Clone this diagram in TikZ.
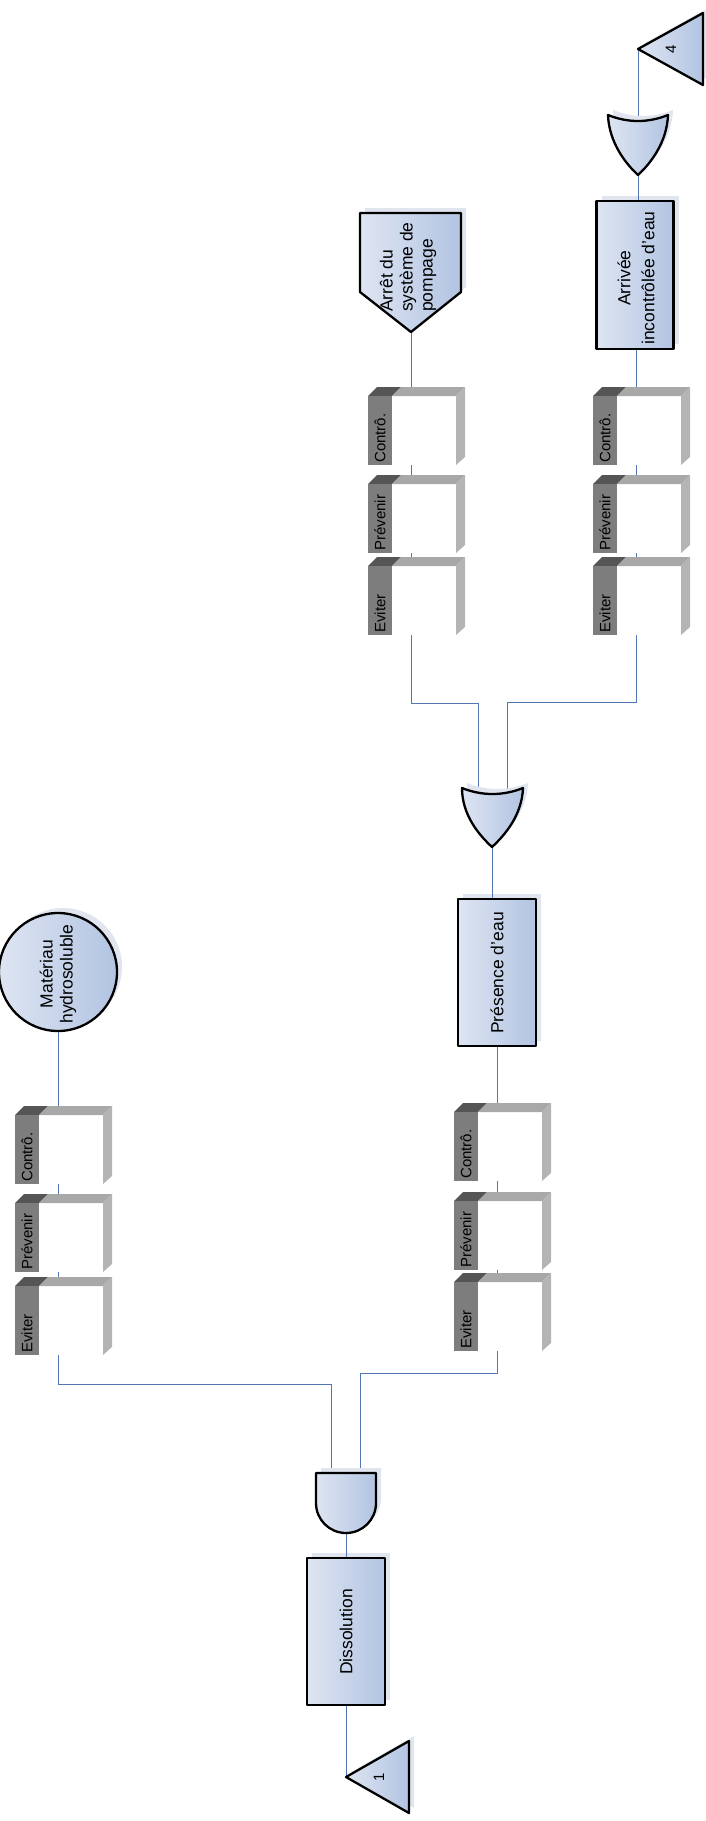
\documentclass[tikz,border=0pt]{standalone}
\usepackage{fontspec}
\setmainfont{Liberation Sans}
\usetikzlibrary{shadows}
\definecolor{fillL}{RGB}{222,229,242}
\definecolor{fillD}{RGB}{178,196,226}
\definecolor{shad}{RGB}{224,229,240}
\definecolor{wirec}{RGB}{84,118,178}
\definecolor{capc}{RGB}{85,85,85}
\definecolor{stripc}{RGB}{125,125,125}
\definecolor{barc}{RGB}{168,168,168}
\definecolor{facec}{RGB}{180,180,180}
\tikzset{
  blk/.style={draw=black, line width=2.3pt, line join=round, left color=fillL, right color=fillD,
    drop shadow={shadow xshift=5pt, shadow yshift=5pt, fill=shad, opacity=1}},
  lbl/.style={rotate=90, inner sep=0pt, font=\fontsize{17.5pt}{20pt}\selectfont},
  ctl/.style={rotate=90, inner sep=0pt, font=\fontsize{15pt}{17pt}\selectfont},
  wire/.style={draw=wirec, line width=1pt}
}
% #1 name, #2 line x, #3 top y, #4 label
\newcommand\ctrlbox[4]{%
  \fill[capc] ({#2-43},{#3+9}) -- ({#2-34},#3) -- ({#2-10},#3) -- ({#2-19},{#3+9}) -- cycle;
  \fill[stripc] ({#2-43},{#3+9}) rectangle ({#2-19},{#3+78});
  \fill[barc] ({#2-19},{#3+9}) -- ({#2-10},#3) -- ({#2+54},#3) -- ({#2+45},{#3+9}) -- cycle;
  \fill[facec] ({#2+45},{#3+9}) -- ({#2+54},#3) -- ({#2+54},{#3+70}) -- ({#2+45},{#3+78}) -- cycle;
  \node[ctl, anchor=west] (#1) at ({#2-31},{#3+76}) {#4};
  \coordinate (#1-t) at (#2,#3);
  \coordinate (#1-b) at (#2,{#3+78});
}
\begin{document}
\begin{tikzpicture}[x=1pt,y=-1pt]
\useasboundingbox (0,0) rectangle (706,1821);

% ---------- control boxes ----------
\ctrlbox{L1}{58}{1106}{Contrô.}
\ctrlbox{L2}{58}{1194}{Prévenir}
\ctrlbox{L3}{58}{1277}{Eviter}
\ctrlbox{M1}{497}{1103}{Contrô.}
\ctrlbox{M2}{497}{1192}{Prévenir}
\ctrlbox{M3}{497}{1273}{Eviter}
\ctrlbox{A1}{411}{387}{Contrô.}
\ctrlbox{A2}{411}{475}{Prévenir}
\ctrlbox{A3}{411}{557}{Eviter}
\ctrlbox{B1}{636}{387}{Contrô.}
\ctrlbox{B2}{636}{475}{Prévenir}
\ctrlbox{B3}{636}{557}{Eviter}

% ---------- coordinates of gates / pins ----------
\coordinate (and-i1) at (331,1473);
\coordinate (and-i2) at (360,1473);
\coordinate (and-o) at (346,1533);
\coordinate (or1-i1) at (478,793);
\coordinate (or1-i2) at (507,793);
\coordinate (or1-o) at (492,847);
\coordinate (or2-i) at (638,121);
\coordinate (or2-o) at (638,175);
\coordinate (t1) at (346,1777);
\coordinate (t4) at (638,49);
\coordinate (pump) at (411,332);

% ---------- main boxes (shapes first, so wires can use their anchors) ----------
\node[blk, circle, minimum size=118pt, inner sep=0pt] (mat) at (58,972) {};
\node[blk, rectangle, minimum width=78pt, minimum height=147pt, inner sep=0pt] (dis) at (346,1631.5) {};
\node[blk, rectangle, minimum width=78pt, minimum height=147pt, inner sep=0pt] (pres) at (497,972.5) {};
\node[blk, rectangle, minimum width=77pt, minimum height=148pt, inner sep=0pt] (arv) at (635,275) {};

% ---------- wires ----------
\draw[wire] (mat.south) -- (L1-t);
\draw[wire] (L1-b) -- (L2-t);
\draw[wire] (L2-b) -- (L3-t);
\draw[wire] (L3-b) -- ++(0,29) -| (and-i1);
\draw[wire] (pres.south) -- (M1-t);
\draw[wire] (M1-b) -- (M2-t);
\draw[wire] (M2-b) -- (M3-t);
\draw[wire] (M3-b) -- ++(0,22) -| (and-i2);
\draw[wire] (and-o) -- (dis.north);
\draw[wire] (dis.south) -- (t1);
\draw[wire] (or1-o) -- (or1-o |- pres.north);
\draw[wire] (pump) -- (A1-t);
\draw[wire] (A1-b) -- (A2-t);
\draw[wire] (A2-b) -- (A3-t);
\draw[wire] (A3-b) -- ++(0,68) -| (or1-i1);
\draw[wire] (B1-t |- arv.south) -- (B1-t);
\draw[wire] (B1-b) -- (B2-t);
\draw[wire] (B2-b) -- (B3-t);
\draw[wire] (B3-b) -- ++(0,67) -| (or1-i2);
\draw[wire] (or2-o) -- (or2-o |- arv.north);
\draw[wire] (or2-i) -- (t4);

% ---------- texts of main boxes ----------
\node[lbl, align=center] (mattxt) at (58,974) {Matériau\\hydrosoluble};
\node[lbl] (distxt) at (346,1632) {Dissolution};
\node[lbl] (prestxt) at (497,973) {Présence d’eau};
\node[lbl, align=center, font=\fontsize{17.5pt}{24pt}\selectfont] (arvtxt) at (636,278) {Arrivée\\incontrôlée d’eau};

% pentagon (undeveloped event)
\draw[blk] (360,213) -- (461,213) -- (461,292) -- (pump) -- (360,292) -- cycle;
\node[lbl, align=left, anchor=west] (pumptxt) at (408,312) {Arrêt du\\système de\\pompage};

% ---------- gates ----------
% AND gate
\draw[blk] (316,1473) -- (376,1473) -- (376,1503)
  .. controls (376,1519.6) and (362.6,1533) .. (and-o)
  .. controls (329.4,1533) and (316,1519.6) .. (316,1503) -- cycle;
% OR gate (middle)
\draw[blk] (462,788) .. controls (482,796) and (503,796) .. (523,788)
  .. controls (522,815) and (505,835) .. (or1-o)
  .. controls (479,835) and (462,815) .. (462,788) -- cycle;
% OR gate (right)
\draw[blk] (608,115) .. controls (628,123) and (648,123) .. (668,115)
  .. controls (667,142) and (651,163) .. (or2-o)
  .. controls (625,163) and (609,142) .. (608,115) -- cycle;

% ---------- transfer triangles ----------
\draw[blk] (t1) -- (409,1741) -- (409,1813) -- cycle;
\node[ctl] (t1txt) at (379,1777) {1};
\draw[blk] (t4) -- (703,13) -- (703,85) -- cycle;
\node[ctl] (t4txt) at (671,49) {4};
\end{tikzpicture}
\end{document}
